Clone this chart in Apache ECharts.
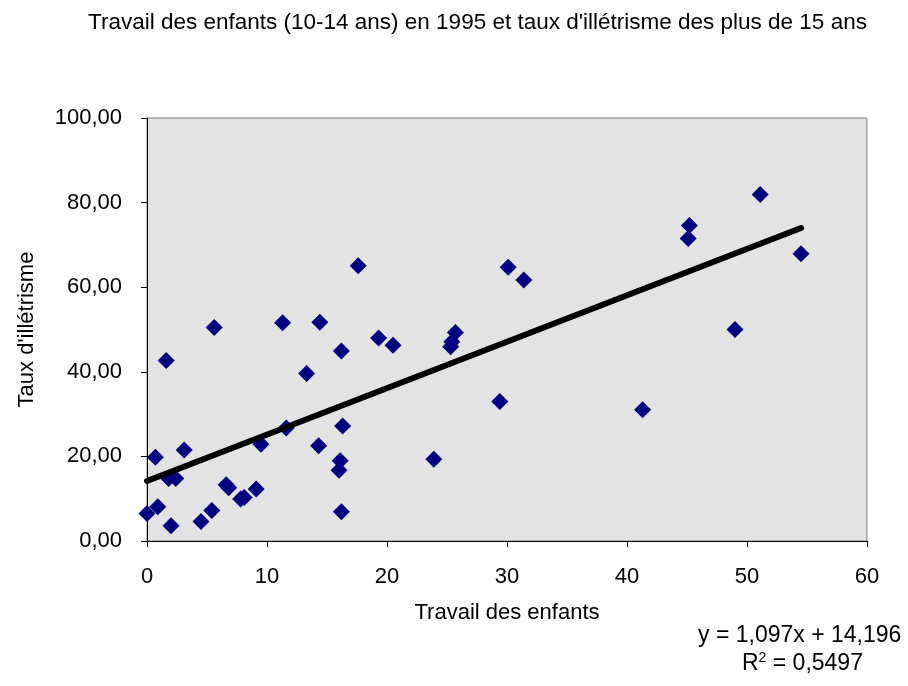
<!DOCTYPE html>
<html>
<head>
<meta charset="utf-8">
<script src="https://cdn.jsdelivr.net/npm/echarts@6/dist/echarts.min.js"></script>
<style>
html,body{margin:0;padding:0;background:#fff;}
#c{width:908px;height:686px;}
</style>
</head>
<body>
<div id="c"></div>
<script>
var titleText = "Travail des enfants (10-14 ans) en 1995 et taux d'illétrisme des plus de 15 ans";
var xName = "Travail des enfants";
var yName = "Taux d'illétrisme";
var childLabour = [0, 0.9, 0.7, 1.6, 1.8, 2.4, 2.0, 3.1, 4.5, 5.4, 5.6, 6.6, 6.8, 7.8, 8.1, 9.1, 9.5, 11.3, 11.6, 13.3, 14.4, 14.3, 16.1, 16.0, 16.2, 16.3, 16.2, 17.6, 19.3, 20.5, 23.9, 25.3, 25.4, 25.7, 29.4, 30.1, 31.4, 41.3, 45.2, 45.1, 49.0, 51.1, 54.5];
var illiteracy = [6.5, 8.1, 19.8, 42.7, 14.8, 14.8, 3.6, 21.5, 4.6, 7.2, 50.5, 13.3, 12.6, 9.9, 10.3, 12.3, 22.9, 51.6, 26.7, 39.6, 51.7, 22.5, 19.0, 16.7, 44.9, 27.2, 6.9, 65.1, 48.0, 46.3, 19.3, 45.9, 47.1, 49.3, 33.0, 64.7, 61.7, 31.0, 74.6, 71.5, 50.0, 81.9, 67.9];
var slope = 1.097;
var intercept = 14.196;
var r2 = "0,5497";
var xTicks = {min: 0, max: 60, interval: 10};
var yTicks = {min: 0, max: 100, interval: 20};

var pts = childLabour.map(function (x, i) { return [x, illiteracy[i]]; });
var xMin = Math.min.apply(null, childLabour);
var xMax = Math.max.apply(null, childLabour);
var trend = [[xMin, slope * xMin + intercept], [xMax, slope * xMax + intercept]];
function fr(n, d) { return n.toFixed(d).replace('.', ','); }

var font = 'Liberation Sans, Arial, sans-serif';
var fs = 22;
var chart = echarts.init(document.getElementById('c'), null, {renderer: 'canvas'});
chart.setOption({
  animation: false,
  backgroundColor: '#ffffff',
  title: {
    text: titleText,
    left: 83,
    top: 6,
    textStyle: {fontFamily: font, fontSize: 22.5, fontWeight: 'normal', color: '#000'}
  },
  grid: {
    left: 147, right: 41, top: 118, bottom: 145,
    show: true, backgroundColor: '#e3e3e3', borderColor: '#808080', borderWidth: 1
  },
  xAxis: {
    type: 'value', min: xTicks.min, max: xTicks.max, interval: xTicks.interval,
    name: xName, nameLocation: 'middle', nameGap: 61,
    nameTextStyle: {fontFamily: font, fontSize: fs, color: '#000'},
    axisLine: {show: true, onZero: false, lineStyle: {color: '#000', width: 1}},
    axisTick: {show: true, length: 6, lineStyle: {color: '#000'}},
    axisLabel: {fontFamily: font, fontSize: fs, color: '#000', margin: 25},
    splitLine: {show: false}
  },
  yAxis: {
    type: 'value', min: yTicks.min, max: yTicks.max, interval: yTicks.interval,
    name: yName, nameLocation: 'middle', nameGap: 109,
    nameTextStyle: {fontFamily: font, fontSize: fs, color: '#000'},
    axisLine: {show: true, onZero: false, lineStyle: {color: '#000', width: 1}},
    axisTick: {show: true, length: 6, lineStyle: {color: '#000'}},
    axisLabel: {fontFamily: font, fontSize: fs, color: '#000', margin: 25,
      formatter: function (v) { return fr(v, 2); }},
    splitLine: {show: false}
  },
  series: [
    {
      type: 'scatter', data: pts, symbol: 'diamond', symbolSize: [17, 17],
      itemStyle: {color: '#000080', opacity: 1}, z: 2
    },
    {
      type: 'line', data: trend, symbol: 'none', z: 3,
      lineStyle: {color: '#000', width: 6, cap: 'round'}
    }
  ],
  graphic: [
    {
      type: 'text', left: 698, top: 624, z: 10,
      style: {text: 'y = ' + fr(slope, 3) + 'x + ' + fr(intercept, 3), font: '23px ' + font, fill: '#000'}
    },
    {
      type: 'text', left: 742, top: 651, z: 10,
      style: {
        text: '{a|R}{s|2}{a| = ' + r2 + '}',
        rich: {
          a: {fontFamily: font, fontSize: 23, color: '#000', verticalAlign: 'bottom'},
          s: {fontFamily: font, fontSize: 14, color: '#000', verticalAlign: 'top', padding: [0, 0, 10, 0]}
        }
      }
    }
  ]
});
</script>
</body>
</html>
